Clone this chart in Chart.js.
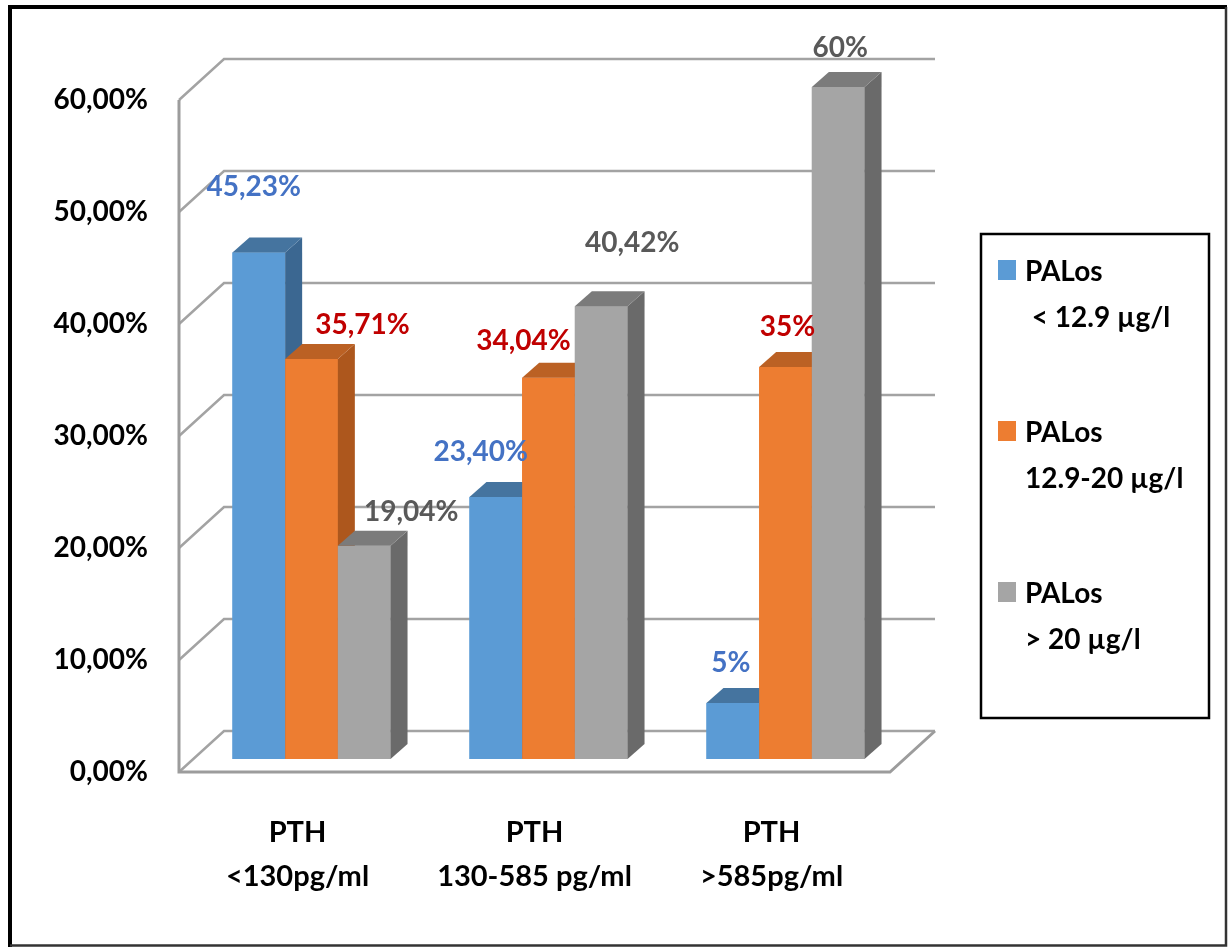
<!DOCTYPE html>
<html>
<head>
<meta charset="utf-8">
<script src="https://cdn.jsdelivr.net/npm/chart.js@4.4.1/dist/chart.umd.min.js"></script>
<style>
  html, body { margin: 0; padding: 0; background: #fff; }
  #palosChart { display: block; }
</style>
</head>
<body>
<canvas id="palosChart" width="1229" height="949"></canvas>
<script>
// PTH groups on the x axis, PALos classes as series
const categories = [['PTH', '<130pg/ml'], ['PTH', '130-585 pg/ml'], ['PTH', '>585pg/ml']];
const seriesNames = [['PALos', ' < 12.9 µg/l'], ['PALos', '12.9-20 µg/l'], ['PALos', '> 20 µg/l']];
const palosLow = [45.23, 23.40, 5];
const palosMid = [35.71, 34.04, 35];
const palosHigh = [19.04, 40.42, 60];
const yTicks = [0, 10, 20, 30, 40, 50, 60];

const FONT = 'Lato, "DejaVu Sans", sans-serif';

// 3D look: offsets of the front edge and back wall relative to the bar plane
const FRONT = { dx: -14, dy: 13 };
const BACK = { dx: 31, dy: -28 };
const BAR_DEPTH = { dx: 17, dy: -15 };

// hand placed value labels, offset from the top centre of each bar
const labelNudge = [
    [[-5, -65], [-15, -45], [-2, -40]],
    [[51, -34], [-25, -37], [2, -40]],
    [[47, -34], [31, -63], [2, -39]]
];

function pct(v) {
    return Number.isInteger(v) ? v + '%' : v.toFixed(2).replace('.', ',') + '%';
}

function quad(ctx, pts, color) {
    ctx.fillStyle = color;
    ctx.beginPath();
    ctx.moveTo(pts[0][0], pts[0][1]);
    for (let i = 1; i < pts.length; i++) ctx.lineTo(pts[i][0], pts[i][1]);
    ctx.closePath();
    ctx.fill();
}

const walls3d = {
    id: 'walls3d',
    beforeDatasetsDraw(chart) {
        const { ctx, chartArea: a, scales: { y } } = chart;
        ctx.save();
        ctx.strokeStyle = '#a3a3a3';
        ctx.lineWidth = 2.5;
        // left wall + back wall gridlines
        yTicks.forEach(v => {
            const py = y.getPixelForValue(v);
            ctx.beginPath();
            ctx.moveTo(a.left + FRONT.dx, py + FRONT.dy);
            ctx.lineTo(a.left + BACK.dx, py + BACK.dy);
            ctx.lineTo(a.right + BACK.dx, py + BACK.dy);
            ctx.stroke();
        });
        // front axis and floor edges
        const yTop = y.getPixelForValue(yTicks[yTicks.length - 1]);
        const y0 = y.getPixelForValue(0);
        ctx.strokeStyle = '#9c9c9c';
        ctx.lineWidth = 3;
        ctx.beginPath();
        ctx.moveTo(a.left + FRONT.dx, yTop + FRONT.dy);
        ctx.lineTo(a.left + FRONT.dx, y0 + FRONT.dy);
        ctx.lineTo(a.right + FRONT.dx, y0 + FRONT.dy);
        ctx.lineTo(a.right + BACK.dx, y0 + BACK.dy);
        ctx.stroke();
        ctx.restore();
    },
    afterDatasetsDraw(chart) {
        const ctx = chart.ctx;
        ctx.save();
        // redraw left to right so each bar hides the side of its neighbour
        chart.data.datasets.forEach((ds, i) => {
            const meta = chart.getDatasetMeta(i);
            meta.data.forEach(bar => {
                const { x, y, base, width } = bar.getProps(['x', 'y', 'base', 'width'], true);
                const l = x - width / 2, r = x + width / 2;
                bar.draw(ctx, chart.chartArea);
                quad(ctx, [[r, y], [r + BAR_DEPTH.dx, y + BAR_DEPTH.dy],
                    [r + BAR_DEPTH.dx, base + BAR_DEPTH.dy], [r, base]], ds.sideColor);
                quad(ctx, [[l, y], [r, y], [r + BAR_DEPTH.dx, y + BAR_DEPTH.dy],
                    [l + BAR_DEPTH.dx, y + BAR_DEPTH.dy]], ds.topColor);
            });
        });

        // value labels
        ctx.font = 'bold 28px ' + FONT;
        ctx.textAlign = 'center';
        ctx.textBaseline = 'middle';
        chart.data.datasets.forEach((ds, i) => {
            const meta = chart.getDatasetMeta(i);
            meta.data.forEach((bar, j) => {
                const n = labelNudge[i][j];
                ctx.fillStyle = ds.labelColor;
                ctx.fillText(pct(ds.data[j]), bar.x + n[0], bar.y + n[1]);
            });
        });

        // legend box
        ctx.strokeStyle = '#000';
        ctx.lineWidth = 2.5;
        ctx.strokeRect(981, 234, 228, 484);
        ctx.textAlign = 'left';
        chart.data.datasets.forEach((ds, i) => {
            const cy = 272 + i * 161;
            ctx.fillStyle = ds.backgroundColor;
            ctx.fillRect(998, cy - 12, 18, 20);
            ctx.fillStyle = '#000';
            ctx.fillText(seriesNames[i][0], 1025, cy);
            ctx.fillText(seriesNames[i][1], 1025, cy + 46);
        });

        // outer frame
        ctx.strokeStyle = '#000';
        ctx.lineWidth = 4;
        ctx.beginPath();
        ctx.moveTo(10, 947);
        ctx.lineTo(10, 7);
        ctx.lineTo(1227, 7);
        ctx.stroke();
        ctx.strokeStyle = '#333';
        ctx.lineWidth = 2.5;
        ctx.beginPath();
        ctx.moveTo(1226, 7);
        ctx.lineTo(1226, 945.5);
        ctx.lineTo(10, 945.5);
        ctx.stroke();
        ctx.restore();
    }
};

new Chart(document.getElementById('palosChart'), {
    type: 'bar',
    data: {
        labels: categories,
        datasets: [
            {
                label: seriesNames[0].join(' '),
                data: palosLow,
                backgroundColor: '#5b9bd5',
                topColor: '#45749f',
                sideColor: '#3b6791',
                labelColor: '#4472c4'
            },
            {
                label: seriesNames[1].join(' '),
                data: palosMid,
                backgroundColor: '#ed7d31',
                topColor: '#bb6124',
                sideColor: '#ad571d',
                labelColor: '#c00000'
            },
            {
                label: seriesNames[2].join(' '),
                data: palosHigh,
                backgroundColor: '#a5a5a5',
                topColor: '#7b7b7b',
                sideColor: '#6a6a6a',
                labelColor: '#595959'
            }
        ]
    },
    options: {
        responsive: false,
        devicePixelRatio: 1,
        animation: false,
        events: [],
        categoryPercentage: 0.667,
        barPercentage: 1,
        layout: { padding: { top: 87, right: 325, left: 0, bottom: 0 } },
        plugins: {
            legend: { display: false },
            tooltip: { enabled: false }
        },
        scales: {
            x: {
                grid: { display: false, drawTicks: false },
                border: { display: false },
                ticks: {
                    color: '#000',
                    font: { family: FONT, size: 29, weight: 'bold', lineHeight: 1.52 },
                    padding: 52,
                    labelOffset: FRONT.dx,
                    maxRotation: 0
                },
                afterFit(scale) { scale.height = 190; }
            },
            y: {
                min: 0,
                max: 60,
                grid: { display: false, drawTicks: false },
                border: { display: false },
                ticks: {
                    stepSize: 10,
                    color: '#000',
                    font: { family: FONT, size: 28, weight: 'bold' },
                    padding: 45,
                    labelOffset: FRONT.dy,
                    callback: v => v.toFixed(2).replace('.', ',') + '%'
                },
                afterFit(scale) { scale.width = 193; }
            }
        }
    },
    plugins: [walls3d]
});
</script>
</body>
</html>
